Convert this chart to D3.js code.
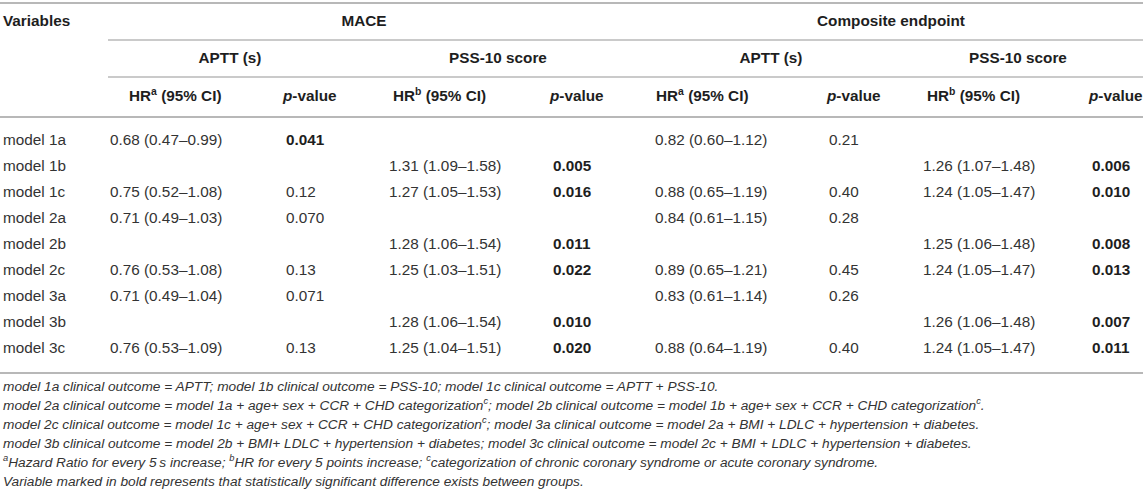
<!DOCTYPE html>
<html><head><meta charset="utf-8">
<script src="https://cdn.jsdelivr.net/npm/d3@7/dist/d3.min.js"></script>
<style>
html,body{margin:0;padding:0;background:#fff;}
svg{display:block;font-family:"Liberation Sans",Arial,Helvetica,sans-serif;}
</style></head>
<body><svg id="t" width="1143" height="501"></svg>
<script>
// ---- data ----
const rows = ["model 1a","model 1b","model 1c","model 2a","model 2b","model 2c","model 3a","model 3b","model 3c"];
const groups = ["MACE","Composite endpoint"];
const subgroups = ["APTT (s)","PSS-10 score"];
const maceApttHR = ["0.68 (0.47–0.99)","","0.75 (0.52–1.08)","0.71 (0.49–1.03)","","0.76 (0.53–1.08)","0.71 (0.49–1.04)","","0.76 (0.53–1.09)"];
const maceApttP  = ["0.041","","0.12","0.070","","0.13","0.071","","0.13"];
const macePssHR  = ["","1.31 (1.09–1.58)","1.27 (1.05–1.53)","","1.28 (1.06–1.54)","1.25 (1.03–1.51)","","1.28 (1.06–1.54)","1.25 (1.04–1.51)"];
const macePssP   = ["","0.005","0.016","","0.011","0.022","","0.010","0.020"];
const compApttHR = ["0.82 (0.60–1.12)","","0.88 (0.65–1.19)","0.84 (0.61–1.15)","","0.89 (0.65–1.21)","0.83 (0.61–1.14)","","0.88 (0.64–1.19)"];
const compApttP  = ["0.21","","0.40","0.28","","0.45","0.26","","0.40"];
const compPssHR  = ["","1.26 (1.07–1.48)","1.24 (1.05–1.47)","","1.25 (1.06–1.48)","1.24 (1.05–1.47)","","1.26 (1.06–1.48)","1.24 (1.05–1.47)"];
const compPssP   = ["","0.006","0.010","","0.008","0.013","","0.007","0.011"];
const significance = 0.05;
const footnotes = [
  [["model 1a clinical outcome = APTT; model 1b clinical outcome = PSS-10; model 1c clinical outcome = APTT + PSS-10.",0]],
  [["model 2a clinical outcome = model 1a + age+ sex + CCR + CHD categorization",0],["c",1],["; model 2b clinical outcome = model 1b + age+ sex + CCR + CHD categorization",0],["c",1],[".",0]],
  [["model 2c clinical outcome = model 1c + age+ sex + CCR + CHD categorization",0],["c",1],["; model 3a clinical outcome = model 2a + BMI + LDLC + hypertension + diabetes.",0]],
  [["model 3b clinical outcome = model 2b + BMI+ LDLC + hypertension + diabetes; model 3c clinical outcome = model 2c + BMI + LDLC + hypertension + diabetes.",0]],
  [["a",1],["Hazard Ratio for every 5\u2009s increase; ",0],["b",1],["HR for every 5 points increase; ",0],["c",1],["categorization of chronic coronary syndrome or acute coronary syndrome.",0]],
  [["Variable marked in bold represents that statistically significant difference exists between groups.",0]]
];

// ---- layout ----
const W = 1143;
const svg = d3.select("#t");
const lineColor = "#b8b8b8", textColor = "#333", boldColor = "#1e1e1e";
const fs = 15.3;

const cols = [maceApttHR, maceApttP, macePssHR, macePssP, compApttHR, compApttP, compPssHR, compPssP];
const colX = d3.scaleOrdinal().domain(d3.range(8)).range([110,286,389,553,655,829,923,1092]);
const headX = d3.scaleOrdinal().domain(d3.range(8)).range([129,283,393,550,656,827,927,1089]);
const subCenter = d3.scaleOrdinal().domain(d3.range(4)).range([230,498,771,1018]);
const groupCenter = d3.scaleOrdinal().domain(groups).range([364,891]);
const y = d3.scalePoint().domain(rows).range([141,349]);

function hline(y0, x0, x1, w){
  svg.append("line").attr("x1",x0).attr("x2",x1).attr("y1",y0).attr("y2",y0)
    .attr("stroke",lineColor).attr("stroke-width",w||1.5);
}
hline(3,0,W,2.2);
hline(40,108,W);
hline(77,108,W);
hline(117,0,W,2);
hline(373,0,W,2);

const txt = (x,yy,s,opt={}) => svg.append("text").attr("x",x).attr("y",yy)
  .attr("font-size",opt.fs||fs).attr("font-weight",opt.bold?"bold":"normal")
  .attr("text-anchor",opt.anchor||"start").attr("fill",opt.bold?boldColor:textColor)
  .attr("dominant-baseline","middle").text(s);

// header
txt(3,22,"Variables",{bold:true});
groups.forEach(g=>txt(groupCenter(g),22,g,{bold:true,anchor:"middle"}));
d3.range(4).forEach(i=>txt(subCenter(i),59,subgroups[i%2],{bold:true,anchor:"middle"}));
d3.range(8).forEach(i=>{
  const t = svg.append("text").attr("x",headX(i)).attr("y",97).attr("text-anchor","start")
    .attr("font-size",fs).attr("font-weight","bold").attr("fill",boldColor).attr("dominant-baseline","middle");
  if(i%2===0){
    t.append("tspan").text("HR");
    t.append("tspan").attr("font-size",fs*0.68).attr("dy",-5).text(i%4===0?"a":"b");
    t.append("tspan").attr("dy",5).text(" (95% CI)");
  } else {
    t.append("tspan").attr("font-style","italic").text("p");
    t.append("tspan").text("-value");
  }
});

// body
svg.append("g").selectAll("text").data(rows).join("text")
  .attr("x",3).attr("y",d=>y(d)).attr("font-size",fs).attr("fill",textColor)
  .attr("dominant-baseline","middle").text(d=>d);

cols.forEach((col,ci)=>{
  svg.append("g").selectAll("text").data(col.map((v,i)=>({v,r:rows[i]}))).join("text")
    .attr("x",colX(ci)).attr("y",d=>y(d.r)).attr("font-size",fs)
    .attr("dominant-baseline","middle")
    .each(function(d){
      const b = ci%2===1 && d.v!=="" && +d.v < significance;
      d3.select(this).attr("font-weight",b?"bold":"normal").attr("fill",b?boldColor:textColor);
    })
    .text(d=>d.v);
});

// footnotes
const fy = d3.scalePoint().domain(d3.range(footnotes.length)).range([387,482]);
footnotes.forEach((parts,i)=>{
  const t = svg.append("text").attr("x",3).attr("y",fy(i)).attr("font-size",13.7)
    .attr("font-style","italic").attr("fill",textColor).attr("dominant-baseline","middle");
  let sup=false;
  parts.forEach(([s,isSup])=>{
    const ts = t.append("tspan").text(s);
    if(isSup){ ts.attr("font-size",9.3).attr("dy",sup?0:-4.5); sup=true; }
    else { if(sup){ ts.attr("dy",4.5); } sup=false; }
  });
});
</script></body></html>
